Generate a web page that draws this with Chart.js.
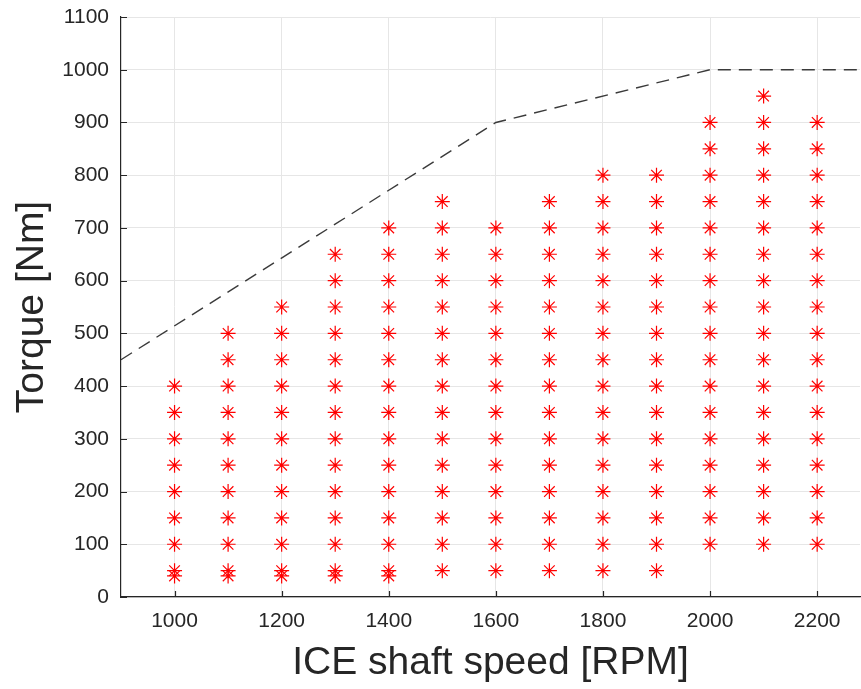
<!DOCTYPE html>
<html>
<head>
<meta charset="utf-8">
<script src="https://cdn.jsdelivr.net/npm/chart.js@4.4.0/dist/chart.umd.min.js"></script>
<style>
  html, body { margin: 0; padding: 0; background: #fff; overflow: hidden; }
  canvas { display: block; }
</style>
</head>
<body>
<canvas id="chart" width="861" height="689"></canvas>
<script>
// operating points: torque values measured at each shaft speed
const speeds = [1000, 1100, 1200, 1300, 1400, 1500, 1600, 1700, 1800, 1900, 2000, 2100, 2200];
const torqueAt = [
    [40, 50, 100, 150, 200, 250, 300, 350, 400],
    [40, 50, 100, 150, 200, 250, 300, 350, 400, 450, 500],
    [40, 50, 100, 150, 200, 250, 300, 350, 400, 450, 500, 550],
    [40, 50, 100, 150, 200, 250, 300, 350, 400, 450, 500, 550, 600, 650],
    [40, 50, 100, 150, 200, 250, 300, 350, 400, 450, 500, 550, 600, 650, 700],
    [50, 100, 150, 200, 250, 300, 350, 400, 450, 500, 550, 600, 650, 700, 750],
    [50, 100, 150, 200, 250, 300, 350, 400, 450, 500, 550, 600, 650, 700],
    [50, 100, 150, 200, 250, 300, 350, 400, 450, 500, 550, 600, 650, 700, 750],
    [50, 100, 150, 200, 250, 300, 350, 400, 450, 500, 550, 600, 650, 700, 750, 800],
    [50, 100, 150, 200, 250, 300, 350, 400, 450, 500, 550, 600, 650, 700, 750, 800],
    [100, 150, 200, 250, 300, 350, 400, 450, 500, 550, 600, 650, 700, 750, 800, 850, 900],
    [100, 150, 200, 250, 300, 350, 400, 450, 500, 550, 600, 650, 700, 750, 800, 850, 900, 950],
    [100, 150, 200, 250, 300, 350, 400, 450, 500, 550, 600, 650, 700, 750, 800, 850, 900]
];

// max torque curve (dashed)
const limitRpm = [900, 1600, 2000, 2280];
const limitTorque = [450, 900, 1000, 1000];

const xTicks = [1000, 1200, 1400, 1600, 1800, 2000, 2200];
const yTicks = [0, 100, 200, 300, 400, 500, 600, 700, 800, 900, 1000, 1100];

const points = [];
speeds.forEach((s, i) => {
    torqueAt[i].forEach(t => points.push({ x: s, y: t }));
});

const axisColor = '#262626';
const tickFont = { family: '"Liberation Sans", Arial, sans-serif', size: 21 };
const titleFont = { family: '"Liberation Sans", Arial, sans-serif', size: 39 };

// matlab style ticks pointing into the plot
const innerTicks = {
    id: 'innerTicks',
    afterDraw(chart) {
        const { ctx, chartArea, scales } = chart;
        ctx.save();
        ctx.strokeStyle = axisColor;
        ctx.lineWidth = 1.2;
        ctx.beginPath();
        xTicks.forEach(v => {
            const px = Math.round(scales.x.getPixelForValue(v)) + 0.5;
            ctx.moveTo(px, chartArea.bottom);
            ctx.lineTo(px, chartArea.bottom - 6);
        });
        yTicks.forEach(v => {
            const py = Math.round(scales.y.getPixelForValue(v)) + 0.5;
            ctx.moveTo(chartArea.left, py);
            ctx.lineTo(chartArea.left + 6, py);
        });
        ctx.stroke();
        ctx.restore();
    }
};

new Chart(document.getElementById('chart'), {
    type: 'scatter',
    data: {
        datasets: [{
            label: 'points',
            data: points,
            pointStyle: 'star',
            radius: 7.5,
            borderColor: '#ff0000',
            backgroundColor: '#ff0000',
            borderWidth: 1.2,
            order: 1
        }, {
            type: 'line',
            label: 'limit',
            data: limitRpm.map((r, i) => ({ x: r, y: limitTorque[i] })),
            borderColor: '#3a3a3a',
            borderWidth: 1.4,
            borderDash: [13, 8],
            pointRadius: 0,
            fill: false,
            order: 0
        }]
    },
    options: {
        responsive: false,
        animation: false,
        layout: { autoPadding: false, padding: { top: 17, right: 1, left: 0, bottom: 0 } },
        plugins: {
            legend: { display: false },
            tooltip: { enabled: false }
        },
        scales: {
            x: {
                type: 'linear',
                min: 900,
                max: 2280,
                afterBuildTicks: (scale) => { scale.ticks = xTicks.map(v => ({ value: v })); },
                afterFit: (scale) => {
                    scale.height = 92;
                    scale.paddingLeft = 0;
                    scale.paddingRight = 0;
                },
                grid: { color: '#e6e6e6', tickLength: 0 },
                border: { color: axisColor, width: 1.2 },
                ticks: { color: axisColor, font: tickFont, padding: 12, maxRotation: 0, callback: v => String(v) },
                title: { display: true, text: 'ICE shaft speed [RPM]', color: axisColor, font: titleFont, padding: { top: 0, bottom: 2 } }
            },
            y: {
                type: 'linear',
                min: 0,
                max: 1100,
                afterBuildTicks: (scale) => { scale.ticks = yTicks.map(v => ({ value: v })); },
                afterFit: (scale) => {
                    scale.width = 121;
                    scale.paddingTop = 0;
                    scale.paddingBottom = 0;
                },
                grid: { color: '#e6e6e6', tickLength: 0 },
                border: { color: axisColor, width: 1.2 },
                ticks: { color: axisColor, font: tickFont, padding: 12, callback: v => String(v) },
                title: { display: true, text: 'Torque [Nm]', color: axisColor, font: titleFont, padding: { top: 9, bottom: 0 } }
            }
        }
    },
    plugins: [innerTicks]
});
</script>
</body>
</html>
